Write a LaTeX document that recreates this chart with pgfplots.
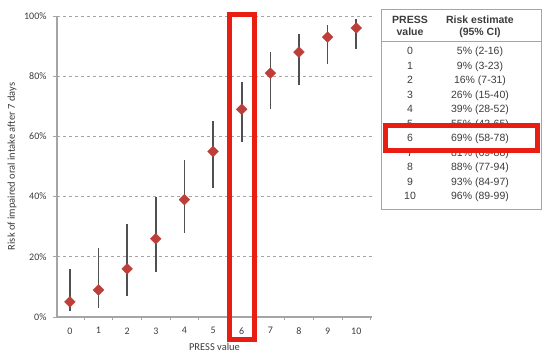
\documentclass[border=0pt]{standalone}
\usepackage{pgfplots}
\pgfplotsset{compat=1.18}
\usepackage{fontspec}
\setmainfont{Carlito}
\newfontfamily\tablefont{Liberation Sans}
\definecolor{markred}{RGB}{190,62,58}
\definecolor{boxred}{RGB}{232,30,18}
\definecolor{barg}{RGB}{80,80,80}
\definecolor{axg}{RGB}{165,165,165}
\definecolor{txt}{RGB}{60,60,60}
\pgfplotstableread{
x y ep em
0 5 11 3
1 9 14 6
2 16 15 9
3 26 14 11
4 39 13 11
5 55 10 12
6 69 9 11
7 81 7 12
8 88 6 11
9 93 4 9
10 96 3 7
}\press
\begin{document}
\begin{tikzpicture}[x=1pt,y=1pt]
\path (0,0) rectangle (542,352);
\begin{axis}[
  at={(57pt,35pt)}, anchor=south west,
  scale only axis, width=315pt, height=301pt,
  clip=false,
  xmin=-0.45, xmax=10.55, ymin=0, ymax=100,
  axis x line*=bottom, axis y line*=left,
  axis line style={-, axg, line width=1.2pt},
  xtick={0,1,2,3,4,5,6,7,8,9,10},
  xticklabels={0,1,2,3,4,5,6,7,8,9,10},
  minor xtick={0.5,1.5,2.5,3.5,4.5,5.5,6.5,7.5,8.5,9.5,10.5},
  major x tick style={draw=none},
  minor x tick style={draw=axg, line width=0.8pt},
  minor tick length=3pt,
  ytick={0,20,40,60,80,100},
  yticklabels={0\%,20\%,40\%,60\%,80\%,100\%},
  major y tick style={draw=axg, line width=0.8pt},
  major tick length=4pt,
  tick align=outside,
  ymajorgrids,
  grid style={axg, line width=0.9pt, dash pattern=on 3pt off 3pt},
  tick label style={font=\fontsize{10}{12}\selectfont, text=txt},
  yticklabel style={xshift=-3pt},
  xticklabel style={yshift=-3pt},
  xlabel={PRESS value},
  ylabel={Risk of impaired oral intake after 7 days},
  label style={font=\fontsize{10.5}{12}\selectfont, text=txt},
  xlabel style={at={(axis description cs:0.5,-0.0997)}, anchor=center},
  ylabel style={at={(axis description cs:-0.143,0.5)}, anchor=center, rotate=0},
]
\addplot[forget plot, only marks, mark=none,
  error bars/.cd, y dir=both, y explicit,
  error mark=none,
  error bar style={draw=barg, line width=1.6pt}]
  table[x=x, y=y, y error plus=ep, y error minus=em]{\press};
\addplot[only marks, mark=square*, mark size=3.8pt,
  mark options={rotate=45, fill=markred, draw=markred}]
  table[x=x, y=y]{\press};
\end{axis}
% red box on chart
\draw[boxred, line width=5pt] (229.5,12.5) rectangle (254.5,337.5);
% table
\draw[axg, line width=0.8pt] (381.5,143) rectangle (541,343);
\draw[axg, line width=0.8pt] (381.5,311) -- (541,311);
\begin{scope}[every node/.style={font=\tablefont\fontsize{10.5}{12}\selectfont, text=txt, inner sep=0pt, anchor=base}]
\node[font=\tablefont\bfseries\fontsize{10.5}{12}\selectfont] at (410,328) {PRESS};
\node[font=\tablefont\bfseries\fontsize{10.5}{12}\selectfont] at (410,316) {value};
\node[font=\tablefont\bfseries\fontsize{10.5}{12}\selectfont] at (480,328) {Risk estimate};
\node[font=\tablefont\bfseries\fontsize{10.5}{12}\selectfont] at (480,316) {(95\% CI)};
\foreach \i/\r in {0/{5\% (2-16)},1/{9\% (3-23)},2/{16\% (7-31)},3/{26\% (15-40)},4/{39\% (28-52)},5/{55\% (43-65)},7/{81\% (69-88)},8/{88\% (77-94)},9/{93\% (84-97)},10/{96\% (89-99)}}{
  \node at (410,297-14.5*\i) {\i};
  \node at (480,297-14.5*\i) {\r};
}
\end{scope}
\draw[boxred, line width=5pt, fill=white] (385.5,201.5) rectangle (537.5,226.5);
\node[font=\tablefont\fontsize{10.5}{12}\selectfont, text=txt, inner sep=0pt, anchor=base] at (410,210) {6};
\node[font=\tablefont\fontsize{10.5}{12}\selectfont, text=txt, inner sep=0pt, anchor=base] at (480,210) {69\% (58-78)};
\end{tikzpicture}
\end{document}
